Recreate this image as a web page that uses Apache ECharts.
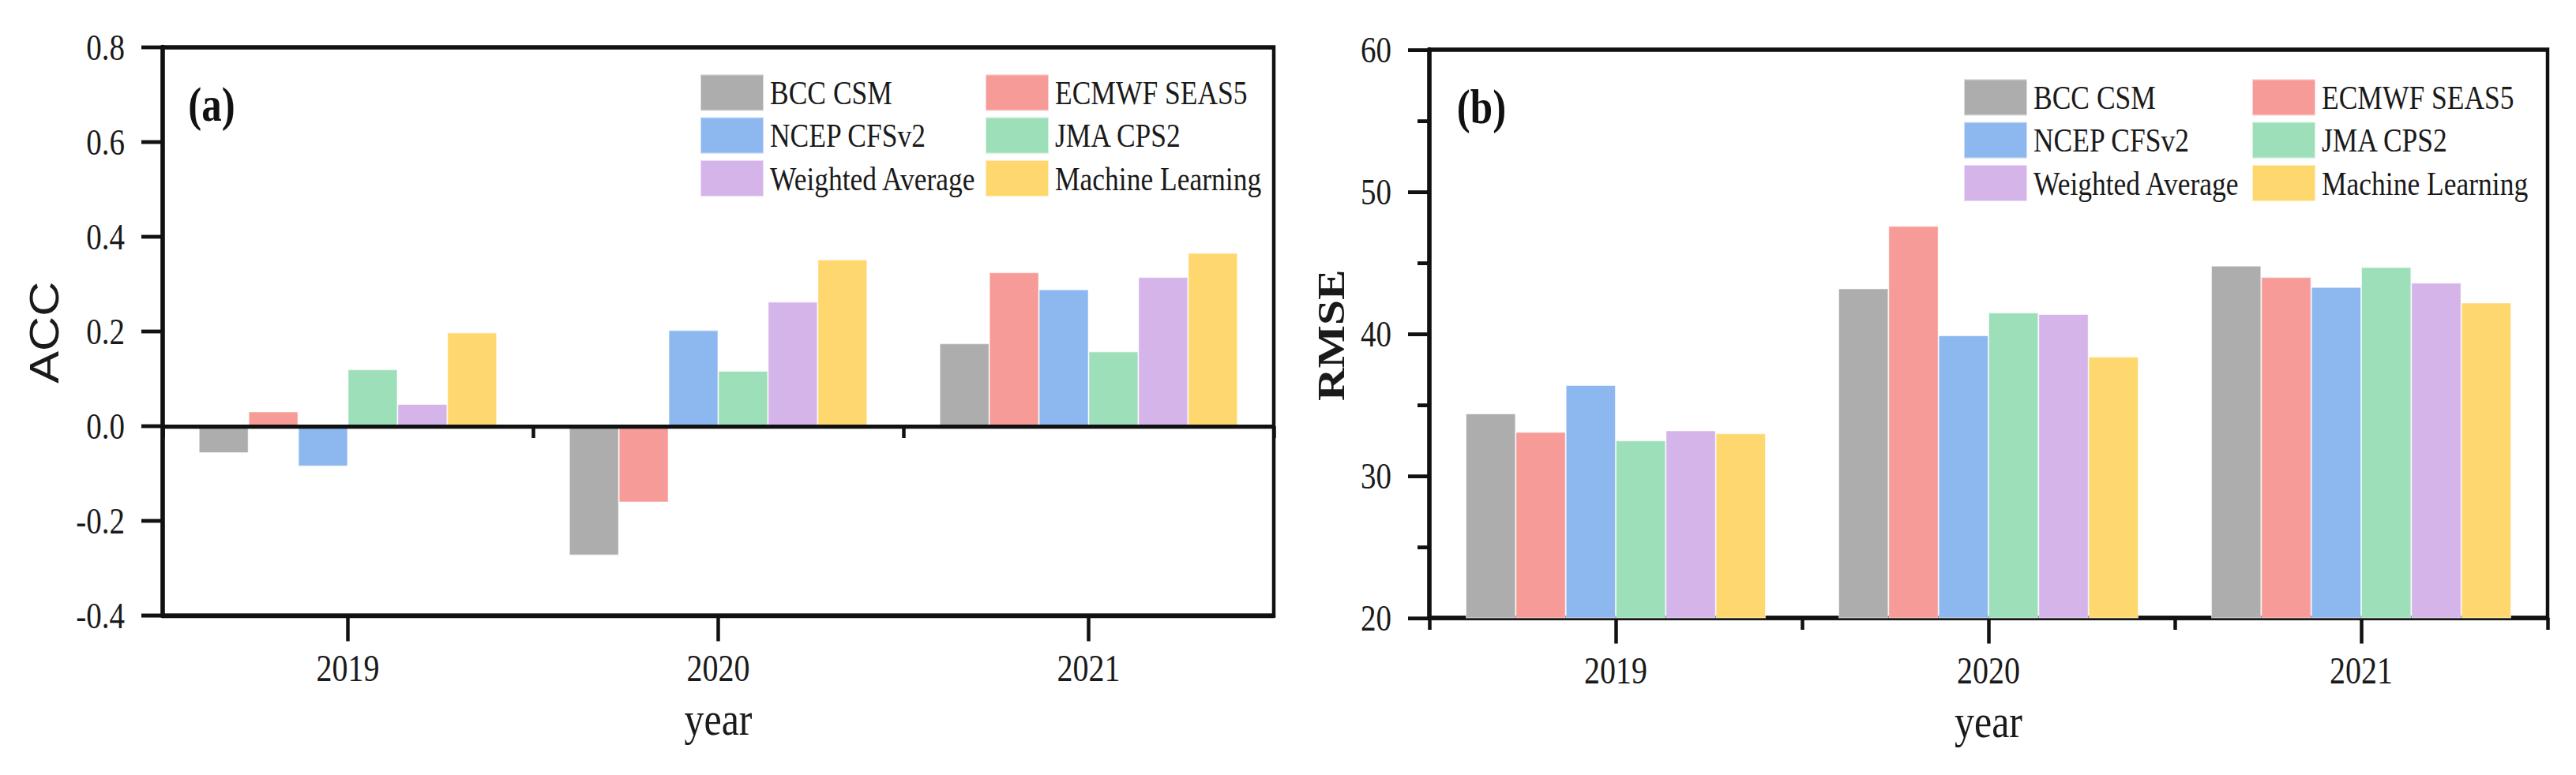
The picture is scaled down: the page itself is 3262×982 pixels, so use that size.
<!DOCTYPE html>
<html>
<head>
<meta charset="utf-8">
<script src="https://cdn.jsdelivr.net/npm/echarts@6/dist/echarts.min.js"></script>
<style>
html,body{margin:0;padding:0;background:#fff;}
html{overflow:hidden;}
body{width:3262px;height:982px;}
#c{width:3262px;height:818px;transform:scaleY(1.2);transform-origin:0 0;}
</style>
</head>
<body>
<div id="c"></div>
<script>
// ---- data ----
const years = ['2019', '2020', '2021'];
const models = ['BCC CSM', 'ECMWF SEAS5', 'NCEP CFSv2', 'JMA CPS2', 'Weighted Average', 'Machine Learning'];
const modelColors = ['#adadad', '#f79b98', '#8db8ef', '#9ddfb9', '#d5b4ea', '#fed86f'];

const accBCC   = [-0.057, -0.273, 0.175];
const accECMWF = [0.031, -0.161, 0.325];
const accNCEP  = [-0.085, 0.203, 0.289];
const accJMA   = [0.120, 0.117, 0.158];
const accWA    = [0.047, 0.263, 0.315];
const accML    = [0.198, 0.352, 0.366];

const rmseBCC   = [34.4, 43.2, 44.8];
const rmseECMWF = [33.1, 47.6, 44.0];
const rmseNCEP  = [36.4, 39.9, 43.3];
const rmseJMA   = [32.5, 41.5, 44.7];
const rmseWA    = [33.2, 41.4, 43.6];
const rmseML    = [33.0, 38.4, 42.2];

const accAxis = { min: -0.4, max: 0.8, interval: 0.2 };
const rmseAxis = { min: 20, max: 60, interval: 10 };

const accData = [accBCC, accECMWF, accNCEP, accJMA, accWA, accML];
const rmseData = [rmseBCC, rmseECMWF, rmseNCEP, rmseJMA, rmseWA, rmseML];

// ---- styling ----
const SERIF = "'Liberation Serif', 'Times New Roman', serif";
const SANS = "'Liberation Sans', Arial, sans-serif";
const BLACK = '#111';

const gridA = { left: 206, top: 50, width: 1407, height: 600 };
const gridB = { left: 1810, top: 52.5, width: 1416, height: 600 };

function mainX(gridIndex) {
  return {
    type: 'category', gridIndex: gridIndex, data: years, position: 'bottom',
    axisLine: { show: true, onZero: false, lineStyle: { color: BLACK, width: 4.5 } },
    axisTick: { show: true, alignWithLabel: true, length: 27, lineStyle: { color: BLACK, width: 4.5 } },
    axisLabel: { show: true, interval: 0, hideOverlap: false, margin: 38, lineHeight: 36,
      color: '#1a1a1a', fontFamily: SERIF, fontSize: 40 },
    name: 'year', nameLocation: 'middle', nameGap: 89, nameMoveOverlap: false,
    nameTextStyle: { color: '#1a1a1a', fontFamily: SERIF, fontSize: 50, lineHeight: 40 },
    splitLine: { show: false }
  };
}
function boundaryX(gridIndex) {
  return {
    type: 'category', gridIndex: gridIndex, data: years, position: 'bottom',
    axisLine: { show: false },
    axisTick: { show: true, alignWithLabel: false, interval: 0, length: 12.5, lineStyle: { color: BLACK, width: 4.5 } },
    axisLabel: { show: false },
    splitLine: { show: false }
  };
}
function hiddenY(gridIndex, ax) {
  return {
    type: 'value', gridIndex: gridIndex, min: ax.min, max: ax.max, interval: ax.interval, show: false,
    splitLine: { show: false }
  };
}
function valueY(gridIndex, ax, minor, fmt) {
  return {
    type: 'value', gridIndex: gridIndex, min: ax.min, max: ax.max, interval: ax.interval,
    axisLine: { show: true, onZero: false, lineStyle: { color: BLACK, width: 5.5 } },
    axisTick: { show: true, length: 27, lineStyle: { color: BLACK, width: 4 } },
    minorTick: { show: minor, splitNumber: 2, length: 15, lineStyle: { color: BLACK, width: 4 } },
    axisLabel: { margin: 48, color: '#1a1a1a', fontFamily: SERIF, fontSize: 39, formatter: fmt },
    splitLine: { show: false },
    minorSplitLine: { show: false }
  };
}

const series = [];
models.forEach(function (m, i) {
  series.push({
    name: m, type: 'bar', xAxisIndex: 0, yAxisIndex: 0, data: accData[i],
    barGap: '0%', barCategoryGap: '19.5%', clip: true,
    itemStyle: { color: modelColors[i], borderColor: 'rgba(255,255,255,0.55)', borderWidth: 1 },
    emphasis: { disabled: true },
    markLine: i === 0 ? {
      silent: true, symbol: 'none', label: { show: false },
      lineStyle: { color: BLACK, width: 4.5, type: 'solid' },
      data: [{ yAxis: 0 }]
    } : undefined
  });
});
models.forEach(function (m, i) {
  series.push({
    name: m, type: 'bar', xAxisIndex: 1, yAxisIndex: 1, data: rmseData[i],
    barGap: '0%', barCategoryGap: '19.5%', clip: true,
    itemStyle: { color: modelColors[i], borderColor: 'rgba(255,255,255,0.55)', borderWidth: 1 },
    emphasis: { disabled: true }
  });
});

function legend(names, left, top) {
  return {
    data: names, orient: 'vertical', left: left, top: top,
    itemWidth: 80, itemHeight: 38.5, itemGap: 4.8, icon: 'rect',
    selectedMode: false, padding: 0,
    textStyle: { color: '#1a1a1a', fontFamily: SERIF, fontSize: 35.5, padding: [0, 0, 0, 3] }
  };
}
const col1 = [models[0], models[2], models[4]];
const col2 = [models[1], models[3], models[5]];

const option = {
  backgroundColor: '#fff',
  animation: false,
  grid: [
    Object.assign({ show: true, borderColor: BLACK, borderWidth: 4.5, backgroundColor: 'transparent' }, gridA),
    Object.assign({ show: true, borderColor: BLACK, borderWidth: 4.5, backgroundColor: 'transparent' }, gridB),
    Object.assign({ show: false }, gridA),
    Object.assign({ show: false }, gridB)
  ],
  xAxis: [mainX(0), mainX(1), boundaryX(2), boundaryX(3)],
  yAxis: [
    valueY(0, accAxis, false, function (v) { return v.toFixed(1); }),
    valueY(1, rmseAxis, true, function (v) { return String(Math.round(v)); }),
    hiddenY(2, accAxis),
    hiddenY(3, rmseAxis)
  ],
  legend: [
    legend(col1, 886, 77.5),
    legend(col2, 1247, 77.5),
    legend(col1, 2486, 82.5),
    legend(col2, 2851, 82.5)
  ],
  graphic: [
    { type: 'text', x: 56, y: 351, rotation: Math.PI / 2,
      style: { text: 'ACC', fill: '#1a1a1a', font: '51px ' + SANS, align: 'center', verticalAlign: 'middle' } },
    { type: 'text', x: 1686, y: 354, rotation: Math.PI / 2,
      style: { text: 'RMSE', fill: '#1a1a1a', font: 'bold 48px ' + SERIF, align: 'center', verticalAlign: 'middle' } },
    { type: 'text', x: 268, y: 110,
      style: { text: '(a)', fill: '#111', font: 'bold 51px ' + SERIF, align: 'center', verticalAlign: 'middle' } },
    { type: 'text', x: 1876, y: 113,
      style: { text: '(b)', fill: '#111', font: 'bold 51px ' + SERIF, align: 'center', verticalAlign: 'middle' } }
  ],
  series: series
};

const chart = echarts.init(document.getElementById('c'), null, { renderer: 'svg' });
chart.setOption(option);
</script>
</body>
</html>
